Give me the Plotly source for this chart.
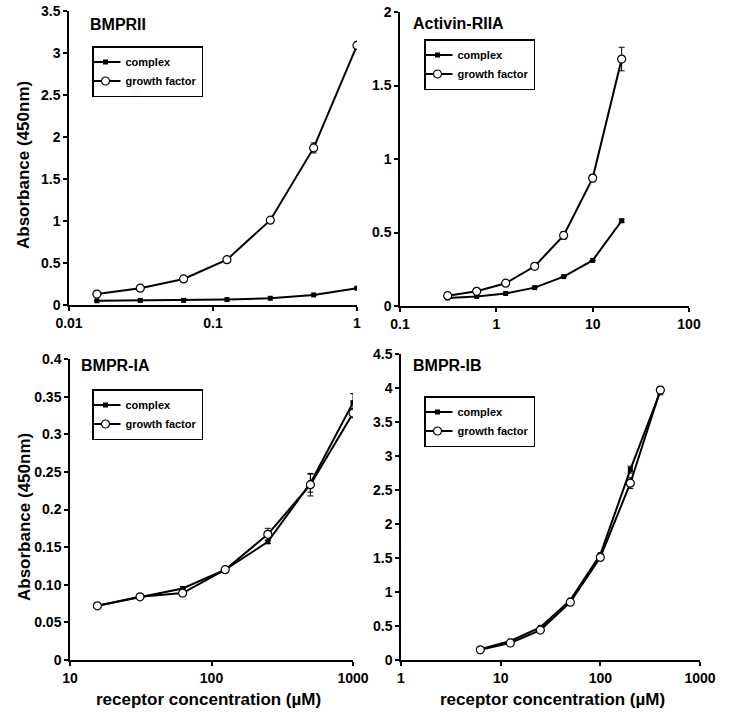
import plotly.graph_objects as go

W, H = 729, 719
OFF = 0  # body margin removed via post_script

# ---------------- data ----------------
conc_bmprii = [0.015625, 0.03125, 0.0625, 0.125, 0.25, 0.5, 1]
bmprii_complex = [0.05, 0.055, 0.055, 0.065, 0.08, 0.12, 0.20]
bmprii_complex_err = [0, 0, 0, 0, 0, 0, 0.01]
bmprii_gf = [0.13, 0.20, 0.31, 0.54, 1.01, 1.87, 3.09]
bmprii_gf_err = [0, 0, 0, 0, 0.02, 0.06, 0.04]

conc_actr = [0.3125, 0.625, 1.25, 2.5, 5, 10, 20]
actr_complex = [0.055, 0.065, 0.085, 0.125, 0.20, 0.31, 0.58]
actr_complex_err = [0, 0, 0, 0, 0, 0, 0.01]
actr_gf = [0.07, 0.10, 0.155, 0.27, 0.48, 0.87, 1.68]
actr_gf_err = [0, 0, 0, 0.01, 0.025, 0.025, 0.08]

conc_bmpria = [15.625, 31.25, 62.5, 125, 250, 500, 1000]
bmpria_complex = [0.072, 0.084, 0.095, 0.120, 0.157, 0.235, 0.342]
bmpria_complex_err = [0, 0, 0, 0, 0.002, 0.012, 0.012]
bmpria_gf = [0.072, 0.084, 0.089, 0.120, 0.167, 0.233, 0.328]
bmpria_gf_err = [0, 0, 0.004, 0, 0.008, 0.015, 0.006]

conc_bmprib = [6.25, 12.5, 25, 50, 100, 200, 400]
bmprib_complex = [0.16, 0.28, 0.48, 0.88, 1.55, 2.80, 3.95]
bmprib_complex_err = [0, 0, 0, 0, 0, 0.05, 0.05]
bmprib_gf = [0.15, 0.25, 0.44, 0.85, 1.51, 2.60, 3.97]
bmprib_gf_err = [0, 0, 0, 0, 0.05, 0.08, 0.05]

titles = ["BMPRII", "Activin-RIIA", "BMPR-IA", "BMPR-IB"]

xtick_1 = [0.01, 0.1, 1]
xtick_2 = [0.1, 1, 10, 100]
xtick_3 = [10, 100, 1000]
xtick_4 = [1, 10, 100, 1000]
xticklabels_1 = ["0.01", "0.1", "1"]
xticklabels_2 = ["0.1", "1", "10", "100"]
xticklabels_3 = ["10", "100", "1000"]
xticklabels_4 = ["1", "10", "100", "1000"]

ytick_1 = [0, 0.5, 1, 1.5, 2, 2.5, 3, 3.5]
yticklabels_1 = ["0", "0.5", "1", "1.5", "2", "2.5", "3", "3.5"]
ytick_2 = [0, 0.5, 1, 1.5, 2]
yticklabels_2 = ["0", "0.5", "1", "1.5", "2"]
ytick_3 = [0, 0.05, 0.10, 0.15, 0.2, 0.25, 0.3, 0.35, 0.4]
yticklabels_3 = ["0", "0.05", "0.10", "0.15", "0.2", "0.25", "0.3", "0.35", "0.4"]
ytick_4 = [0, 0.5, 1, 1.5, 2, 2.5, 3, 3.5, 4, 4.5]
yticklabels_4 = ["0", "0.5", "1", "1.5", "2", "2.5", "3", "3.5", "4", "4.5"]

FONT = "Liberation Sans, Arial, sans-serif"


def px(v):
    return (v - OFF) / W


def py(v):
    return (H - (v - OFF)) / H


panels = [
    dict(x=conc_bmprii, c=bmprii_complex, ce=bmprii_complex_err, g=bmprii_gf, ge=bmprii_gf_err,
         xd=(69, 357), yd=(11, 305), xr=(-2, 0), yr=(0, 3.5),
         xt=xtick_1, xtl=xticklabels_1, yt=ytick_1, ytl=yticklabels_1, leg=(92, 46)),
    dict(x=conc_actr, c=actr_complex, ce=actr_complex_err, g=actr_gf, ge=actr_gf_err,
         xd=(400, 689), yd=(12, 306), xr=(-1, 2), yr=(0, 2),
         xt=xtick_2, xtl=xticklabels_2, yt=ytick_2, ytl=yticklabels_2, leg=(424, 39)),
    dict(x=conc_bmpria, c=bmpria_complex, ce=bmpria_complex_err, g=bmpria_gf, ge=bmpria_gf_err,
         xd=(70, 353), yd=(359, 660), xr=(1, 3), yr=(0, 0.4),
         xt=xtick_3, xtl=xticklabels_3, yt=ytick_3, ytl=yticklabels_3, leg=(92, 389)),
    dict(x=conc_bmprib, c=bmprib_complex, ce=bmprib_complex_err, g=bmprib_gf, ge=bmprib_gf_err,
         xd=(401, 700), yd=(354, 660), xr=(0, 3), yr=(0, 4.5),
         xt=xtick_4, xtl=xticklabels_4, yt=ytick_4, ytl=yticklabels_4, leg=(424, 396)),
]

fig = go.Figure()
layout = dict(
    width=W, height=H, margin=dict(l=0, r=0, t=0, b=0, autoexpand=False),
    paper_bgcolor="white", plot_bgcolor="white",
    font=dict(family=FONT, color="black"),
    annotations=[],
)

for i, p in enumerate(panels):
    n = "" if i == 0 else str(i + 1)
    xa, ya = "x" + n, "y" + n
    legname = "legend" + n
    fig.add_trace(go.Scatter(
        x=p["x"], y=p["c"], name="complex", mode="lines+markers",
        line=dict(color="black", width=2),
        marker=dict(symbol="square", size=5, color="black"),
        error_y=dict(type="data", array=p["ce"], color="black", thickness=1, width=3),
        xaxis=xa, yaxis=ya, legend=legname, showlegend=True,
    ))
    fig.add_trace(go.Scatter(
        x=p["x"], y=p["g"], name="growth factor", mode="lines+markers",
        line=dict(color="black", width=2),
        marker=dict(symbol="circle", size=8, color="white", line=dict(color="black", width=1.2)),
        error_y=dict(type="data", array=p["ge"], color="black", thickness=1, width=3),
        xaxis=xa, yaxis=ya, legend=legname, showlegend=True,
    ))
    axstyle = dict(showline=True, linecolor="black", linewidth=1.5, showgrid=False, zeroline=False,
                   ticks="outside", ticklen=4, tickwidth=1.5, tickcolor="black", automargin=False,
                   ticklabeloverflow="allow",
                   tickfont=dict(family=FONT, size=14, color="black", weight="bold"))
    layout["xaxis" + n] = dict(
        type="log", range=list(p["xr"]), domain=[px(p["xd"][0]), px(p["xd"][1])],
        anchor=ya, tickvals=p["xt"], ticktext=p["xtl"], **axstyle)
    layout["yaxis" + n] = dict(
        range=list(p["yr"]), domain=[py(p["yd"][1]), py(p["yd"][0])],
        anchor=xa, tickvals=p["yt"], ticktext=p["ytl"], **axstyle)
    layout[legname] = dict(
        x=px(p["leg"][0]), y=py(p["leg"][1]), xanchor="left", yanchor="top",
        bordercolor="black", borderwidth=1.5, bgcolor="white",
        font=dict(family=FONT, size=11, color="black", weight="bold"),
        itemwidth=30, tracegroupgap=0, indentation=-8,
    )

title_pos = [(88, 24), (411, 23), (79, 365), (411, 365)]
for t, (tx, ty) in zip(titles, title_pos):
    layout["annotations"].append(dict(
        text=t, x=px(tx), y=py(ty), xref="paper", yref="paper",
        xanchor="left", yanchor="middle", showarrow=False,
        font=dict(family=FONT, size=16, color="black", weight="bold")))

for cy in (165, 517):
    layout["annotations"].append(dict(
        text="Absorbance (450nm)", x=px(24), y=py(cy), xref="paper", yref="paper",
        xanchor="center", yanchor="middle", showarrow=False, textangle=-90,
        font=dict(family=FONT, size=17, color="black", weight="bold")))

for cx in (208, 552):
    layout["annotations"].append(dict(
        text="receptor concentration (µM)", x=px(cx), y=py(699), xref="paper", yref="paper",
        xanchor="center", yanchor="middle", showarrow=False,
        font=dict(family=FONT, size=17, color="black", weight="bold")))

fig.update_layout(**layout)
fig.write_html("out.html", config={"displayModeBar": False},
               post_script="document.body.style.margin='0px';")
